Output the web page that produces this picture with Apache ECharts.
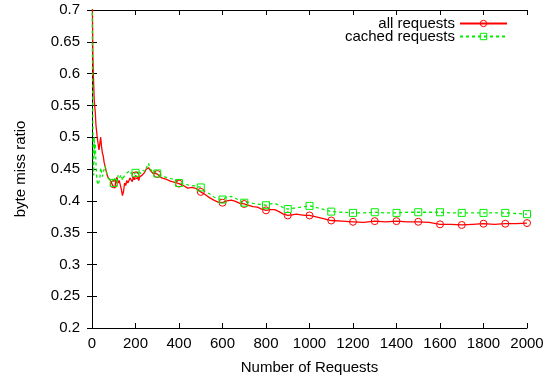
<!DOCTYPE html>
<html>
<head>
<meta charset="utf-8">
<script src="https://cdn.jsdelivr.net/npm/echarts@6/dist/echarts.min.js"></script>
<style>
html, body { margin: 0; padding: 0; background: #fff; }
#main { width: 554px; height: 383px; }
</style>
</head>
<body>
<div id="main"></div>
<script>
// 请求数 (x)
var requests = [0,2,4,6,8,10,12,15,18,21,24,28,32,36,40,44,48,52,56,60,65,70,75,80,85,90,95,
  100,105,110,115,120,125,130,135,140,145,150,155,160,165,170,175,180,185,190,195,
  200,205,210,215,220,225,230,235,240,245,250,255,260,265,270,275,280,285,290,295,300,
  320,340,360,380,400,420,440,460,480,500,520,540,560,580,600,620,640,660,680,700,
  720,740,760,780,800,820,840,860,880,900,920,940,960,980,1000,
  1050,1100,1150,1200,1250,1300,1350,1400,1450,1500,1550,1600,1650,1700,1750,1800,1850,1900,1950,2000];

// all requests
var allRatio = [0.80,0.70,0.63,0.60,0.58,0.56,0.55,0.54,0.52,0.51,0.50,0.49,0.48,0.49,0.50,0.485,0.475,0.47,0.46,0.455,0.447,0.44,0.436,0.438,0.432,0.428,0.424,
  0.426,0.420,0.433,0.437,0.428,0.432,0.425,0.418,0.408,0.415,0.428,0.424,0.432,0.428,0.430,0.436,0.434,0.430,0.437,0.433,
  0.440,0.437,0.436,0.432,0.438,0.435,0.440,0.438,0.444,0.441,0.450,0.447,0.452,0.449,0.447,0.444,0.443,0.446,0.443,0.440,0.442,
  0.436,0.434,0.431,0.429,0.427,0.424,0.420,0.421,0.419,0.414,0.410,0.405,0.401,0.398,0.397,0.400,0.401,0.399,0.396,0.395,
  0.393,0.391,0.390,0.387,0.385,0.386,0.386,0.383,0.379,0.377,0.378,0.379,0.378,0.377,0.377,
  0.373,0.369,0.368,0.367,0.366,0.368,0.367,0.368,0.367,0.367,0.366,0.363,0.363,0.362,0.363,0.364,0.363,0.364,0.364,0.365];

// cached requests
var cachedRatio = [0.80,0.62,0.52,0.46,0.44,0.50,0.47,0.49,0.46,0.44,0.43,0.425,0.422,0.435,0.452,0.445,0.438,0.445,0.448,0.455,0.458,0.440,0.435,0.432,0.433,0.430,0.434,
  0.428,0.436,0.438,0.430,0.440,0.435,0.434,0.441,0.432,0.437,0.436,0.442,0.440,0.445,0.442,0.447,0.443,0.440,0.446,0.442,
  0.444,0.448,0.442,0.446,0.446,0.443,0.444,0.448,0.449,0.446,0.452,0.455,0.459,0.452,0.450,0.447,0.446,0.449,0.446,0.443,0.443,
  0.439,0.437,0.435,0.434,0.428,0.427,0.425,0.424,0.423,0.421,0.415,0.411,0.406,0.403,0.402,0.406,0.407,0.404,0.400,0.397,
  0.398,0.396,0.395,0.394,0.393,0.395,0.396,0.393,0.389,0.387,0.388,0.389,0.390,0.391,0.392,
  0.388,0.383,0.382,0.381,0.381,0.382,0.381,0.381,0.382,0.382,0.382,0.382,0.381,0.381,0.381,0.381,0.381,0.381,0.380,0.379];

// 每100个请求画一个点
function buildData(vals, sym) {
  return requests.map(function (x, i) {
    var mark = x > 0 && x % 100 === 0;
    return { value: [x, vals[i]], symbol: mark ? sym : 'none' };
  });
}

var font = 'Liberation Sans, Arial, sans-serif';
var chart = echarts.init(document.getElementById('main'));
var axisX = {
  type: 'value', min: 0, max: 2000, interval: 200,
  axisLine: { lineStyle: { color: '#000', width: 1 } },
  axisTick: { inside: true, length: 5, lineStyle: { color: '#000' } },
  splitLine: { show: false }
};
var axisY = {
  type: 'value', min: 0.2, max: 0.7, interval: 0.05,
  axisLine: { show: true, lineStyle: { color: '#000', width: 1 } },
  axisTick: { show: true, inside: true, length: 5, lineStyle: { color: '#000' } },
  splitLine: { show: false }
};
var option = {
  animation: false,
  backgroundColor: '#fff',
  textStyle: { fontFamily: font },
  grid: { left: 92, right: 27, top: 10, bottom: 55 },
  legend: {
    orient: 'vertical', right: 46, top: 16, align: 'right', padding: 0,
    itemWidth: 47, itemHeight: 8, itemGap: -2,
    itemStyle: { borderWidth: 1 },
    textStyle: { fontSize: 15, color: '#000', fontFamily: font },
    data: ['all requests', 'cached requests']
  },
  xAxis: [
    Object.assign({}, axisX, {
      position: 'bottom',
      name: 'Number of Requests', nameLocation: 'middle', nameGap: 32,
      nameTextStyle: { fontSize: 15, color: '#000' },
      axisLabel: { fontSize: 15, color: '#000', margin: 8,
        formatter: function (v) { return String(v); } }
    }),
    Object.assign({}, axisX, { position: 'top', axisLabel: { show: false } })
  ],
  yAxis: [
    Object.assign({}, axisY, {
      position: 'left',
      name: 'byte miss ratio', nameLocation: 'middle', nameGap: 64,
      nameTextStyle: { fontSize: 15, color: '#000' },
      axisLabel: { fontSize: 15, color: '#000', margin: 12,
        formatter: function (v) { return String(+v.toFixed(2)); } }
    }),
    Object.assign({}, axisY, { position: 'right', axisLabel: { show: false } })
  ],
  series: [
    {
      name: 'all requests', type: 'line', xAxisIndex: 0, yAxisIndex: 0,
      symbol: 'circle', symbolSize: 7, clip: true,
      itemStyle: { color: 'rgba(255,255,255,0)', borderColor: '#ff0000', borderWidth: 1 },
      lineStyle: { color: '#ff0000', width: 1.3 },
      data: buildData(allRatio, 'circle')
    },
    {
      name: 'cached requests', type: 'line', xAxisIndex: 0, yAxisIndex: 0,
      symbol: 'rect', symbolSize: 7, clip: true,
      itemStyle: { color: 'rgba(255,255,255,0)', borderColor: '#00ee00', borderWidth: 1 },
      lineStyle: { color: '#00ee00', width: 1.3, type: [3, 3] },
      data: buildData(cachedRatio, 'rect')
    }
  ]
};
chart.setOption(option);
</script>
</body>
</html>
